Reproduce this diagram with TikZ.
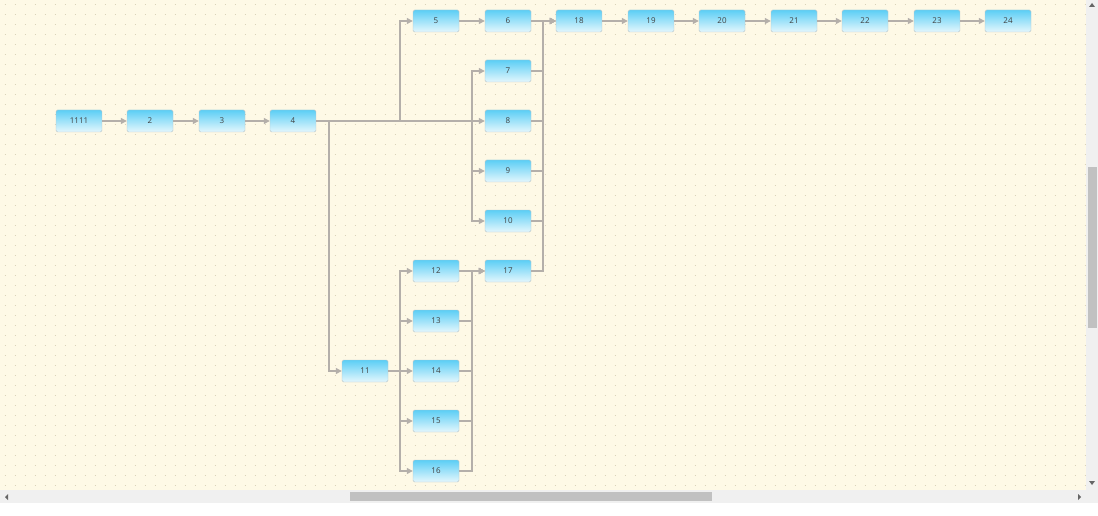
\documentclass[tikz,border=0pt]{standalone}
\usepackage{fontspec}
\setmainfont{Open Sans}
\usetikzlibrary{arrows.meta}
\definecolor{bg}{HTML}{FEF9E6}
\definecolor{dot}{HTML}{D9D2B8}
\definecolor{ln}{HTML}{B4AFAA}
\definecolor{topc}{HTML}{5CCEF5}
\definecolor{botc}{HTML}{E4F7FD}
\definecolor{bd}{HTML}{B8C4C8}
\definecolor{sb}{HTML}{F0F0F0}
\definecolor{th}{HTML}{C1C1C1}
\tikzset{
 box/.style={draw=bd, rounded corners=1.5pt, top color=topc, bottom color=botc, minimum width=46pt, minimum height=22pt, inner sep=0pt, font=\fontsize{8}{8}\selectfont, text=black!75},
 con/.style={draw=ln, line width=1.2pt, -{Triangle[length=6pt,width=6pt]}},
 seg/.style={draw=ln, line width=1.2pt}
}
\begin{document}
\begin{tikzpicture}[x=1pt,y=-1pt]
\useasboundingbox (0,0) rectangle (1098,516);
\fill[white] (0,0) rectangle (1098,516);
\fill[bg] (0,0) rectangle (1086,490);
\foreach \yy in {5,15,...,485}
 \draw[dot, line width=1pt, dash pattern=on 1pt off 9pt] (4.5,\yy) -- (1086,\yy);
% scrollbars
\fill[sb] (1086,0) rectangle (1098,490);
\fill[th] (1087.5,167) rectangle (1096.5,328);
\fill[sb] (0,490) rectangle (1098,503);
\fill[th] (350,492) rectangle (712,501);
\fill[black!60] (1089,481) -- (1095,481) -- (1092,485) -- cycle;
\fill[black!60] (1089,7) -- (1095,7) -- (1092,3) -- cycle;
\fill[black!60] (8,494) -- (8,500) -- (5,497) -- cycle;
\fill[black!60] (1078,494) -- (1078,500) -- (1081,497) -- cycle;
% nodes
\node[box] (n1) at (79,121) {1111};
\node[box] (n2) at (150,121) {2};
\node[box] (n3) at (222,121) {3};
\node[box] (n4) at (293,121) {4};
\node[box] (n5) at (436,21) {5};
\node[box] (n6) at (508,21) {6};
\node[box] (n7) at (508,71) {7};
\node[box] (n8) at (508,121) {8};
\node[box] (n9) at (508,171) {9};
\node[box] (n10) at (508,221) {10};
\node[box] (n17) at (508,271) {17};
\node[box] (n11) at (365,371) {11};
\node[box] (n12) at (436,271) {12};
\node[box] (n13) at (436,321) {13};
\node[box] (n14) at (436,371) {14};
\node[box] (n15) at (436,421) {15};
\node[box] (n16) at (436,471) {16};
\node[box] (n18) at (579,21) {18};
\node[box] (n19) at (651,21) {19};
\node[box] (n20) at (722,21) {20};
\node[box] (n21) at (794,21) {21};
\node[box] (n22) at (865,21) {22};
\node[box] (n23) at (937,21) {23};
\node[box] (n24) at (1008,21) {24};
% connectors
\draw[con] (n1) -- (n2);
\draw[con] (n2) -- (n3);
\draw[con] (n3) -- (n4);
\draw[con] (n5) -- (n6);
\draw[con] (n18) -- (n19);
\draw[con] (n19) -- (n20);
\draw[con] (n20) -- (n21);
\draw[con] (n21) -- (n22);
\draw[con] (n22) -- (n23);
\draw[con] (n23) -- (n24);
\draw[con] (n4.east) -- (400,121) |- (n5.west);
\foreach \t in {7,8,9,10} \draw[con] (n4.east) -| (472,121) |- (n\t.west);
\draw[con] (n4.east) -| (329,121) |- (n11.west);
\foreach \t in {12,13,14,15,16} \draw[con] (n11.east) -| (400,371) |- (n\t.west);
\foreach \s in {12,13,14,15,16} \draw[con] (n\s.east) -| (472,271) -- (n17.west);
\foreach \s in {6,7,8,9,10,17} \draw[con] (n\s.east) -| (543,21) -- (n18.west);
\end{tikzpicture}
\end{document}
